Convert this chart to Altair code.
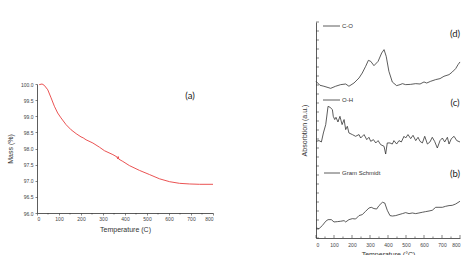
import altair as alt
import pandas as pd

# ---- TGA mass-loss curve (panel a) ----
TGA_T = [10, 23, 33, 49, 64, 79, 94, 109, 132, 155, 178, 200, 210, 223, 254, 284,
         307, 345, 363, 367, 369, 372, 390, 420, 466, 512, 557, 603, 648, 694, 739, 800]
TGA_M = [99.98, 100.0, 99.96, 99.82, 99.57, 99.31, 99.1, 98.95, 98.74, 98.58, 98.46,
         98.36, 98.33, 98.27, 98.17, 98.04, 97.93, 97.81, 97.74, 97.68, 97.75, 97.67,
         97.6, 97.47, 97.32, 97.19, 97.06, 96.97, 96.92, 96.9, 96.89, 96.89]

# ---- FTIR evolved-gas traces (panels b, c, d), stacked in arbitrary units ----
CO_T = [0, 22, 44, 81.5, 109, 137, 165, 183, 211, 239, 257, 276, 291, 304, 322, 345,
        365, 378, 390, 405, 424, 448, 467, 480, 498, 526, 554, 578, 600, 615, 637, 665,
        689, 711, 739, 757, 776, 789, 800]
CO_A = [17.41, 16.97, 16.86, 16.63, 16.86, 17.04, 17.11, 16.86, 17.22, 17.78, 18.33,
        19.08, 19.74, 19.63, 19.15, 19.63, 20.56, 20.93, 20.19, 18.52, 17.33, 16.93,
        17.04, 17.15, 17.04, 17.07, 17.15, 17.11, 17.34, 17.22, 17.41, 17.6, 17.71,
        17.97, 18.15, 18.44, 18.82, 19.26, 19.56]

OH_T = [0, 17, 30, 41, 54, 67, 78, 91, 96, 104, 111, 122, 133, 145, 156, 165, 174, 183,
        202, 220, 239, 248, 267, 282, 294, 304, 319, 332, 345, 359, 378, 387, 396, 411,
        424, 433, 448, 461, 474, 489, 498, 511, 526, 539, 554, 567, 578, 591, 604, 619,
        633, 646, 659, 674, 689, 702, 715, 730, 739, 752, 767, 782, 800]
OH_A = [10.74, 10.82, 10.67, 11.67, 12.6, 14.63, 14.52, 14.27, 13.52, 13.16, 13.41,
        12.89, 13.52, 12.6, 13.16, 12.04, 12.41, 11.67, 11.49, 11.3, 11.49, 11.11, 11.49,
        10.93, 11.19, 10.74, 10.93, 10.56, 10.82, 10.38, 10.19, 9.33, 10.56, 10.56,
        10.44, 10.82, 10.44, 10.82, 10.67, 11.3, 11.11, 11.49, 11.04, 11.41, 10.82,
        11.19, 10.74, 10.56, 11.3, 10.44, 10.67, 11.19, 10.74, 10.0, 10.82, 11.11,
        10.67, 11.19, 10.44, 11.04, 11.3, 10.82, 10.67]

GS_T = [0, 17, 35, 54, 67, 85, 100, 119, 137, 156, 165, 183, 202, 220, 239, 257, 276,
        294, 307, 322, 337, 350, 369, 382, 396, 411, 424, 443, 461, 480, 498, 517, 535,
        554, 572, 591, 609, 628, 646, 665, 683, 702, 720, 739, 757, 776, 800]
GS_A = [1.11, 1.04, 1.38, 1.86, 2.04, 2.04, 1.78, 1.82, 1.86, 1.93, 1.78, 2.04, 2.15,
        2.11, 2.49, 2.6, 2.97, 3.33, 3.41, 3.27, 3.22, 3.6, 3.97, 3.89, 3.08, 2.49,
        2.44, 2.49, 2.6, 2.71, 2.82, 2.71, 2.78, 2.71, 2.78, 2.86, 2.93, 3.0, 3.08,
        3.41, 3.41, 3.41, 3.52, 3.6, 3.63, 3.78, 4.08]

X_MAJOR = list(range(0, 801, 100))
X_MINOR = list(range(50, 800, 100))
MASS_TICKS = [96.0, 96.5, 97.0, 97.5, 98.0, 98.5, 99.0, 99.5, 100.0]
ABS_TICKS = list(range(0, 25))

SERIES = ["C-O", "O-H", "Gram Schmidt"]
PANEL_TAGS = ["(d)", "(c)", "(b)"]
KEY_Y = [4, 78, 151]
KEY_X0 = [7, 7, 8]
TAG_Y = [11.5, 80.5, 152]

FONT = "Liberation Sans"
TAG_FONT = "Lato"
INK = "#333333"

# ---------------- panel (a) ----------------
tga = pd.DataFrame({"T": TGA_T, "mass": TGA_M})
W_A, H_A = 176, 216
Y_RANGE_A = [191, 62]
x_scale_a = alt.Scale(domain=[0, 800], nice=False)
x_axis_a = alt.Axis(values=X_MAJOR, format="d", title="Temperature (C)",
                    tickSize=2, labelPadding=1, titlePadding=4, offset=-25,
                    labelFontSize=5, titleFontSize=7, grid=False, labelOverlap=False)

xa = alt.X("T:Q", scale=x_scale_a, axis=x_axis_a)
ya = alt.Y("mass:Q", scale=alt.Scale(domain=[96, 100], range=Y_RANGE_A, nice=False, zero=False),
           axis=alt.Axis(values=MASS_TICKS, format=".1f", title="Mass (%)",
                         tickSize=2, labelPadding=2, titlePadding=7,
                         labelFontSize=5, titleFontSize=7, grid=False,
                         labelOverlap=False))

curve_a = alt.Chart(tga).mark_line(color="#e8403f", strokeWidth=0.9).encode(x=xa, y=ya)

minor_a = alt.Chart(pd.DataFrame({"T": X_MINOR})).mark_rule(
    color=INK, strokeWidth=0.6).encode(
    x=alt.X("T:Q", scale=x_scale_a, axis=x_axis_a),
    y=alt.value(Y_RANGE_A[0]), y2=alt.value(Y_RANGE_A[0] + 1.5))

tag_a = alt.Chart(pd.DataFrame({"t": ["(a)"]})).mark_text(
    font=TAG_FONT, fontSize=9.5, color="#222", align="center", baseline="middle").encode(
    text="t:N", x=alt.value(153), y=alt.value(Y_RANGE_A[1] + 12))

panel_a = alt.layer(curve_a, minor_a, tag_a).properties(width=W_A, height=H_A)

# ---------------- panels (b)-(d) ----------------
gas = pd.concat([
    pd.DataFrame({"T": CO_T, "A": CO_A, "gas": SERIES[0]}),
    pd.DataFrame({"T": OH_T, "A": OH_A, "gas": SERIES[1]}),
    pd.DataFrame({"T": GS_T, "A": GS_A, "gas": SERIES[2]}),
], ignore_index=True)

W_B, H_B = 144, 216
x_scale = alt.Scale(domain=[0, 800], nice=False)
y_scale = alt.Scale(domain=[0, 24], nice=False, zero=False)
x_axis_b = alt.Axis(values=X_MAJOR, format="d", title="Temperature (\u00b0C)",
                    ticks=False, labelPadding=4, titlePadding=3,
                    labelFontSize=5, titleFontSize=7, grid=False, labelOverlap=False)
y_axis_b = alt.Axis(title="Absorbtion (a.u.)", labels=False, ticks=False,
                    titlePadding=9, titleFontSize=7, grid=False)

traces = alt.Chart(gas).mark_line(color=INK, strokeWidth=0.8).encode(
    x=alt.X("T:Q", scale=x_scale, axis=x_axis_b),
    y=alt.Y("A:Q", scale=y_scale, axis=y_axis_b),
    detail="gas:N")

# inward tick marks on both axes
ytick = alt.Chart(pd.DataFrame({"A": ABS_TICKS})).mark_rule(
    color=INK, strokeWidth=0.6).encode(
    y=alt.Y("A:Q", scale=y_scale, axis=y_axis_b), x=alt.value(0), x2=alt.value(3))
xtick_major = alt.Chart(pd.DataFrame({"T": X_MAJOR})).mark_rule(
    color=INK, strokeWidth=0.6).encode(
    x=alt.X("T:Q", scale=x_scale, axis=x_axis_b), y=alt.value(H_B), y2=alt.value(H_B - 3))
xtick_minor = alt.Chart(pd.DataFrame({"T": X_MINOR})).mark_rule(
    color=INK, strokeWidth=0.6).encode(
    x=alt.X("T:Q", scale=x_scale, axis=x_axis_b), y=alt.value(H_B), y2=alt.value(H_B - 1.5))

# in-plot series keys and panel tags
key_rows = pd.DataFrame({"gas": SERIES, "tag": PANEL_TAGS})
key_lines = alt.layer(*[
    alt.Chart(key_rows.iloc[[i]]).mark_rule(color=INK, strokeWidth=0.8).encode(
        x=alt.value(KEY_X0[i]), x2=alt.value(24), y=alt.value(KEY_Y[i]))
    for i in range(3)
])
key_text = alt.layer(*[
    alt.Chart(key_rows.iloc[[i]]).mark_text(
        font=FONT, fontSize=6, color=INK, align="left", baseline="middle").encode(
        text="gas:N", x=alt.value(26), y=alt.value(KEY_Y[i]))
    for i in range(3)
])
tags = alt.layer(*[
    alt.Chart(key_rows.iloc[[i]]).mark_text(
        font=TAG_FONT, fontSize=9.5, color="#222", align="center", baseline="middle").encode(
        text="tag:N", x=alt.value(139), y=alt.value(TAG_Y[i]))
    for i in range(3)
])

panel_b = alt.layer(traces, ytick, xtick_major, xtick_minor, key_lines, key_text, tags
                    ).properties(width=W_B, height=H_B)

chart = alt.hconcat(panel_a, panel_b, spacing=103, bounds="flush").properties(
    padding={"left": 6, "top": 21, "right": 0, "bottom": 0},
    background="white",
).configure_view(stroke=None, strokeWidth=0).configure_axis(
    domainColor=INK, domainWidth=0.8, tickColor=INK, tickWidth=0.6,
    labelColor="#444444", titleColor=INK, labelFont=FONT, titleFont=FONT,
    titleFontWeight="normal", labelOverlap=False
)

chart.save("out.html", embed_options={"renderer": "svg", "actions": False})
